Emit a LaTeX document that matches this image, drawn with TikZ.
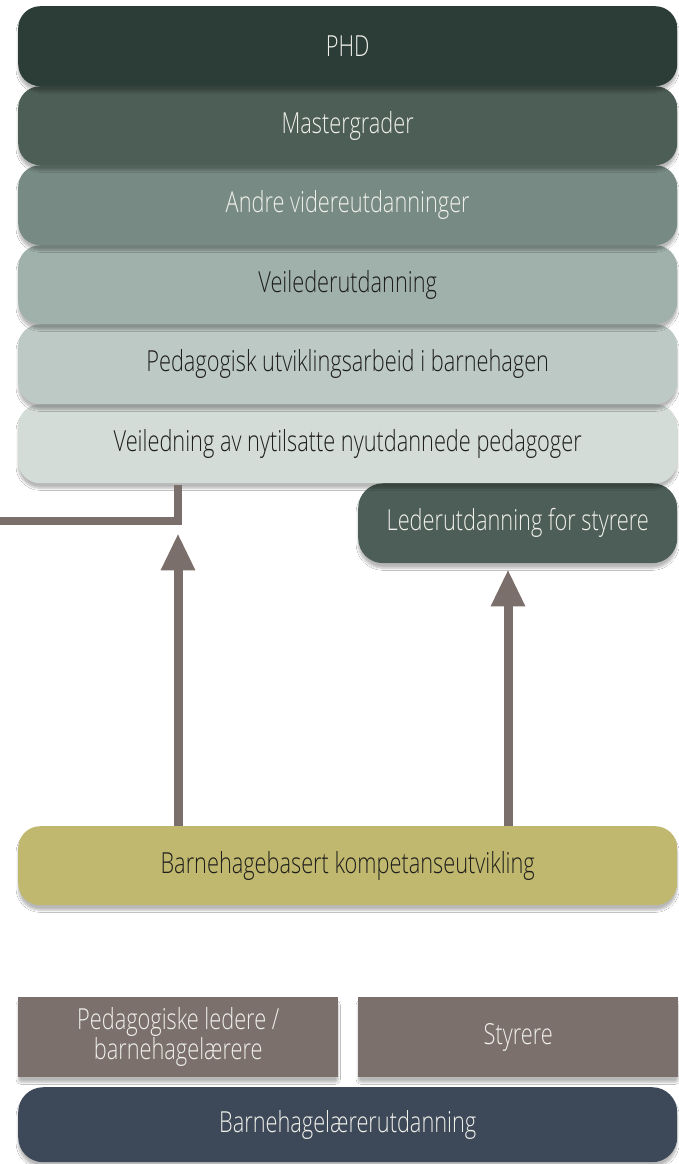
\documentclass[tikz,border=0pt]{standalone}
\usepackage{fontspec}
\setmainfont{Open Sans}[UprightFont=* Light, FakeStretch=0.75]
\usetikzlibrary{arrows.meta,shadows.blur,calc}
\definecolor{cphd}{HTML}{2C3D38}
\definecolor{cmaster}{HTML}{4D5E57}
\definecolor{candre}{HTML}{778A84}
\definecolor{cveileder}{HTML}{A0B1AB}
\definecolor{cpedutv}{HTML}{BDC9C5}
\definecolor{cveiledning}{HTML}{D4DCD8}
\definecolor{cleder}{HTML}{4C5E57}
\definecolor{cbhb}{HTML}{C1B86F}
\definecolor{cgrey}{HTML}{7B706B}
\definecolor{cbottom}{HTML}{3D4959}
\definecolor{carrow}{HTML}{7A6F6B}
\definecolor{clight}{HTML}{F0F0EA}
\definecolor{cdark}{HTML}{1E1E1C}
\tikzset{
  shad/.style={blur shadow={shadow xshift=0pt, shadow yshift=-5pt, shadow blur steps=8, shadow blur extra rounding=3pt, shadow opacity=28}},
  layer/.style={shad, rounded corners=22pt, anchor=north west, inner sep=0pt,
     minimum width=659pt, minimum height=80pt, font=\fontsize{29}{31}\selectfont},
  halfbox/.style={shad, anchor=north west, inner sep=0pt,
     minimum width=320pt, minimum height=80pt, font=\fontsize{29}{31}\selectfont},
  conn/.style={draw=carrow, line width=9pt},
  arr/.style={conn, -{Triangle[length=37pt,width=32pt]}},
}
\begin{document}
\begin{tikzpicture}[x=1pt,y=-1pt]
\useasboundingbox[fill=white] (0,0) rectangle (679,1164);
% upper stack (drawn bottom to top)
\node[layer, fill=cleder, text=clight, minimum width=319pt, rounded corners=25pt] (leder) at (358,483) {Lederutdanning for styrere};
\node[layer, fill=cveiledning, text=cdark, minimum height=79pt] (veil) at (18,404) {Veiledning av nytilsatte nyutdannede pedagoger};
\node[layer, fill=cpedutv, text=cdark] (pedutv) at (18,324) {Pedagogisk utviklingsarbeid i barnehagen};
\node[layer, fill=cveileder, text=cdark, minimum height=79pt] (veileder) at (18,245) {Veilederutdanning};
\node[layer, fill=candre, text=clight] (andre) at (18,165) {Andre videreutdanninger};
\node[layer, fill=cmaster, text=clight, minimum height=79pt] (master) at (18,86) {Mastergrader};
\node[layer, fill=cphd, text=clight] (phd) at (18,6) {PHD};
% lower part
\node[layer, fill=cbhb, text=cdark, minimum height=79pt] (bhb) at (18,826) {Barnehagebasert kompetanseutvikling};
\node[layer, fill=cbottom, text=clight, minimum height=75pt, rounded corners=25pt] (bottom) at (18,1087) {Barnehagelærerutdanning};
\node[halfbox, fill=cgrey, text=clight, align=center, font=\fontsize{29}{27}\selectfont] (ped) at (18,997) {Pedagogiske ledere /\\barnehagelærere};
\node[halfbox, fill=cgrey, text=clight] (styrere) at (358,997) {Styrere};
% connectors
\coordinate (c1) at (178,0);
\coordinate (c2) at (508,0);
\coordinate (lft) at (0,521);
\draw[conn, line width=8pt] (lft) -- (c1 |- lft) -- ([yshift=-2pt]veil.south -| c1);
\draw[arr, shorten >=50pt] (bhb.north -| c1) -- (veil.south -| c1);
\draw[arr, shorten >=6pt] (bhb.north -| c2) -- (leder.south -| c2);
\end{tikzpicture}
\end{document}
